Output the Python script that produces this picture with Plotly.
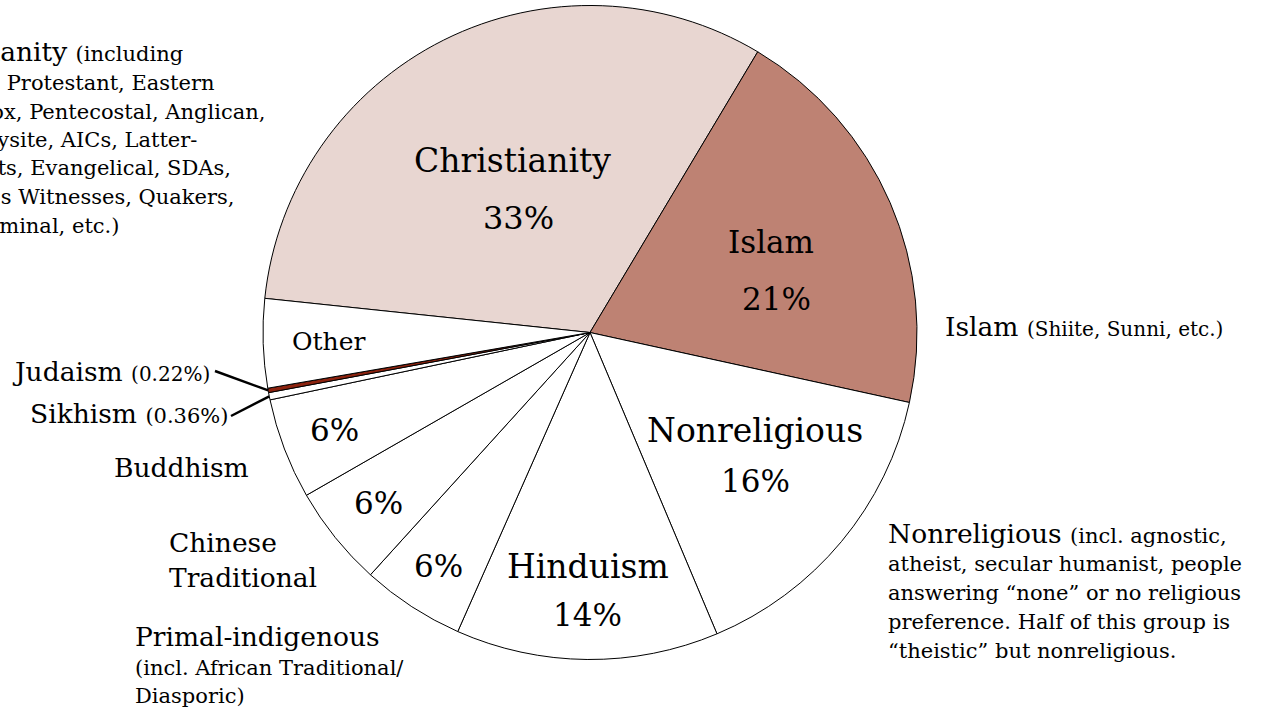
import math
import plotly.graph_objects as go

# ---------------- data ----------------
religions = ["Christianity", "Islam", "Nonreligious", "Hinduism", "Primal-indigenous",
             "Chinese Traditional", "Buddhism", "Sikhism", "Judaism", "Other"]
shares = [31.97, 19.9, 15.25, 13.0, 5.1, 5.0, 5.0, 0.36, 0.22, 4.4]
inside_names = ["Christianity", "Islam", "Nonreligious", "Hinduism", "", "", "", "", "", "Other"]
pct_labels = ["33%", "21%", "16%", "14%", "6%", "6%", "6%", "", "", ""]

# ---------------- style ----------------
slice_colors = ["#E8D6D1", "#BE8273", "#FFFFFF", "#FFFFFF", "#FFFFFF",
                "#FFFFFF", "#FFFFFF", "#FFFFFF", "#8C230F", "#FFFFFF"]
label_r = [0.49, 0.60, 0.63, 0.79, 0.85, 0.83, 0.835, None, None, 0.80]
label_nudge = [0, 5, -3, 0, 0, 0, 0, 0, 0, 0]
label_gap = [57, 57, 51, 48, 0, 0, 0, 0, 0, 0]
name_dx = [-6, -5, 0, 0, 0, 0, 0, 0, 0, 0]
name_size = [33, 31, 33, 33, 0, 0, 0, 0, 0, 25]
pct_size = [32, 31, 31, 31, 31, 31, 31, 0, 0, 0]

FONT = "DejaVu Serif"
BIG, SMALL = 26.5, 21
W, H = 1264, 711
CX, CY, R = 590.0, 332.5, 327.0
START = 276.0


def px(x, y):
    return x / W, 1 - y / H


def polar(angle_deg, rfrac):
    a = math.radians(angle_deg)
    return CX + R * rfrac * math.sin(a), CY - R * rfrac * math.cos(a)


total = sum(shares)
mids = []
acc = START
for v in shares:
    span = v / total * 360
    mids.append(acc + span / 2)
    acc += span

fig = go.Figure()
fig.add_trace(go.Pie(
    labels=religions, values=shares, sort=False, direction="clockwise",
    rotation=START, textinfo="none", hoverinfo="label+percent",
    marker=dict(colors=slice_colors, line=dict(color="black", width=1)),
    domain=dict(x=[(CX - R) / W, (CX + R) / W], y=[1 - (CY + R) / H, 1 - (CY - R) / H]),
    showlegend=False,
))

annotations = []


def add_text(text, x, y, size, xanchor="center"):
    xp, yp = px(x, y)
    annotations.append(dict(text=text, x=xp, y=yp, xref="paper", yref="paper",
                            xanchor=xanchor, yanchor="middle", showarrow=False,
                            font=dict(family=FONT, size=size, color="black")))


# inside labels
for i in range(len(religions)):
    if label_r[i] is None:
        continue
    x, y = polar(mids[i] + label_nudge[i], label_r[i])
    name, pct = inside_names[i], pct_labels[i]
    if name and pct:
        add_text(name, x + name_dx[i], y - label_gap[i] / 2, name_size[i])
        add_text(pct, x, y + label_gap[i] / 2, pct_size[i])
    elif name:
        add_text(name, x, y, name_size[i])
    else:
        add_text(pct, x, y, pct_size[i])


def small(t, s=SMALL):
    return f'<span style="font-size:{s}px">{t}</span>'


# Christianity description: left-aligned in the original, running off the left edge;
# each line is anchored at its visible right end.
christ_lines = [
    "Christianity " + small("(including"),
    small("Catholic, Protestant, Eastern"),
    small("Orthodox, Pentecostal, Anglican,"),
    small("Monophysite, AICs, Latter-"),
    small("day Saints, Evangelical, SDAs,"),
    small("Jehovah's Witnesses, Quakers,"),
    small("AOC, nominal, etc.)"),
]
christ_right = [185, 217, 267, 199, 233, 237, 121]
christ_y = [52, 83, 112, 140, 168, 197, 226]
for t, xr, y in zip(christ_lines, christ_right, christ_y):
    add_text(t, xr, y, BIG, xanchor="right")

# other outer descriptive labels
outer_blocks = [
    (943, [327], ["Islam " + small("(Shiite, Sunni, etc.)", 20)]),
    (886, [533, 564, 593, 622, 651], [
        "Nonreligious " + small("(incl. agnostic,"),
        small("atheist, secular humanist, people"),
        small("answering \u201cnone\u201d or no religious"),
        small("preference. Half of this group is"),
        small("\u201ctheistic\u201d but nonreligious."),
    ]),
    (10, [371], ["Judaism " + small("(0.22%)", 20)]),
    (28, [413], ["Sikhism " + small("(0.36%)", 21)]),
    (112, [468], ["Buddhism"]),
    (167, [542, 577], ["Chinese", "Traditional"]),
    (133, [636, 668, 696], ["Primal-indigenous", small("(incl. African Traditional/"),
                            small("Diasporic)")]),
]
for x0, ys, lines in outer_blocks:
    for y, t in zip(ys, lines):
        add_text(t, x0, y, BIG, xanchor="left")

# leader lines from small-slice labels to their slices
leaders = [("Judaism", 215, 371), ("Sikhism", 231, 416)]
shapes = []
for name, tx, ty in leaders:
    i = religions.index(name)
    ex, ey = polar(mids[i], 1.0)
    x0p, y0p = px(tx, ty)
    x1p, y1p = px(ex, ey)
    shapes.append(dict(type="line", xref="paper", yref="paper", x0=x0p, y0=y0p,
                       x1=x1p, y1=y1p, line=dict(color="black", width=2.5)))

fig.update_layout(
    width=W, height=H, margin=dict(l=0, r=0, t=0, b=0),
    paper_bgcolor="white", plot_bgcolor="white",
    annotations=annotations, shapes=shapes,
)

fig.write_html("out.html", config={"displayModeBar": False},
               post_script="document.body.style.margin='0';")
